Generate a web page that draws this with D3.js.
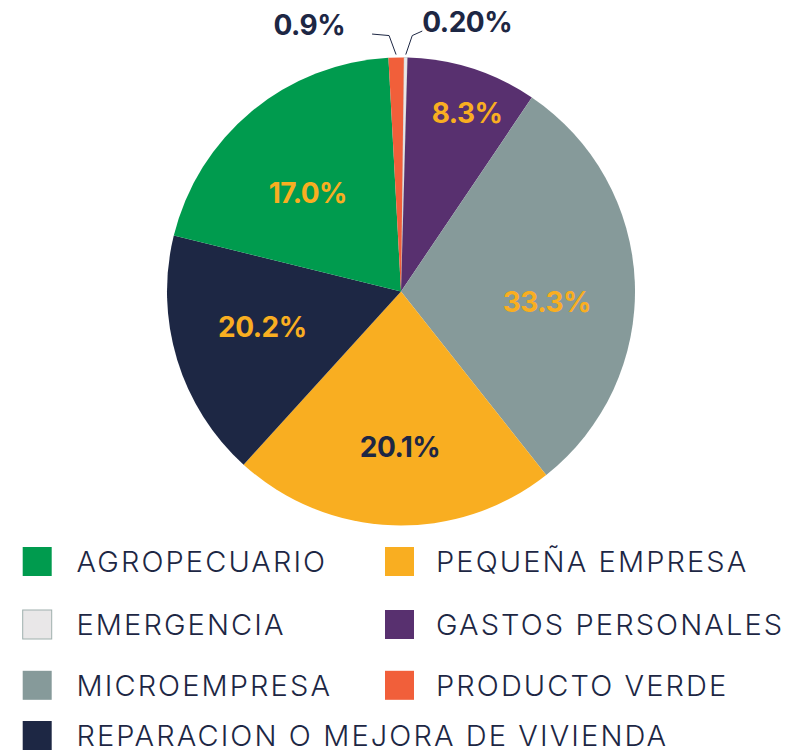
<!DOCTYPE html>
<html>
<head>
<meta charset="utf-8">
<script src="https://cdn.jsdelivr.net/npm/d3@7"></script>
<style>
  html, body { margin: 0; padding: 0; background: #fff; }
  svg { display: block; }
</style>
</head>
<body>
<div id="chart"></div>
<script>
// Categories, clockwise from the top of the pie
const categories = [
  "EMERGENCIA",
  "GASTOS PERSONALES",
  "MICROEMPRESA",
  "PEQUEÑA EMPRESA",
  "REPARACION O MEJORA DE VIVIENDA",
  "AGROPECUARIO",
  "PRODUCTO VERDE"
];
// slice sizes as drawn in the picture (%)
const shares = [0.25, 9.0, 29.9, 22.4, 17.1, 20.3, 1.05];
// percentages printed on the chart
const labels = ["0.20%", "8.3%", "33.3%", "20.1%", "20.2%", "17.0%", "0.9%"];
const colors = ["#e9e7e8", "#58306f", "#869a9a", "#f9ae21", "#1d2744", "#009b4e", "#f15f3a"];

// legend order (two columns)
const legendOrder = [
  "AGROPECUARIO", "PEQUEÑA EMPRESA",
  "EMERGENCIA", "GASTOS PERSONALES",
  "MICROEMPRESA", "PRODUCTO VERDE",
  "REPARACION O MEJORA DE VIVIENDA"
];

const width = 792;
const height = 753;
const cx = 401;
const cy = 291.5;
const radius = 234;
const navy = "#1d2744";
const gold = "#f9ae21";

const data = categories.map((c, i) => ({ cat: c, value: shares[i], label: labels[i], color: colors[i] }));

const svg = d3.select("#chart")
  .append("svg")
  .attr("width", width)
  .attr("height", height)
  .attr("viewBox", [0, 0, width, height]);

const offset = 0.7 * Math.PI / 180;
const pie = d3.pie()
  .sort(null)
  .value(d => d.value)
  .startAngle(offset)
  .endAngle(offset + 2 * Math.PI);

const arcs = pie(data);
const arc = d3.arc().innerRadius(0).outerRadius(radius);

const g = svg.append("g")
  .attr("transform", `translate(${cx},${cy})`);

// slices
g.selectAll("path")
  .data(arcs)
  .join("path")
  .attr("d", arc)
  .attr("fill", d => d.data.color)
  .attr("stroke", d => d.data.cat === "EMERGENCIA" ? "#b8c3c1" : "none")
  .attr("stroke-width", 0.6);

// label placement tweaks (bestFit-like), px
const nudge = {
  "GASTOS PERSONALES": [8, 2],
  "MICROEMPRESA": [0, 16],
  "PEQUEÑA EMPRESA": [4, 9],
  "REPARACION O MEJORA DE VIVIENDA": [1, -7],
  "AGROPECUARIO": [0, 14]
};

// labels inside the big slices
const big = arcs.filter(d => d.data.value > 5);
g.selectAll("text.inner")
  .data(big)
  .join("text")
  .attr("class", "inner")
  .attr("transform", d => {
    const a = (d.startAngle + d.endAngle) / 2;
    const r = (d.endAngle - d.startAngle) < 0.7 ? 190 : 146;
    const [nx, ny] = nudge[d.data.cat] || [0, 0];
    return `translate(${Math.sin(a) * r + nx},${-Math.cos(a) * r + ny})`;
  })
  .attr("text-anchor", "middle")
  .attr("dy", "0.36em")
  .attr("font-family", "Inter, 'Open Sans', sans-serif")
  .attr("font-weight", 700)
  .attr("font-size", "28px")
  .attr("letter-spacing", "-0.5px")
  .attr("fill", d => d.data.color === gold ? navy : gold)
  .text(d => d.data.label);

// leader lines and labels for the tiny slices
const small = arcs.filter(d => d.data.value <= 5);
small.forEach(d => {
  const a = (d.startAngle + d.endAngle) / 2;
  const x0 = Math.sin(a) * (radius + 3);
  const y0 = -Math.cos(a) * (radius + 3);
  const left = a > Math.PI;
  const x1 = x0 + (left ? -7 : 6.5);
  const y1 = y0 - 19;
  const x2 = x1 + (left ? -17 : 10);
  const y2 = y1 + (left ? -1.5 : -4.5);
  g.append("polyline")
    .attr("points", [[x0, y0], [x1, y1], [x2, y2]].map(p => p.join(",")).join(" "))
    .attr("fill", "none")
    .attr("stroke", navy)
    .attr("stroke-width", 1);
  g.append("text")
    .attr("x", left ? x2 - 27 : x2)
    .attr("y", y2 + 1)
    .attr("text-anchor", left ? "end" : "start")
    .attr("font-family", "Inter, 'Open Sans', sans-serif")
    .attr("font-weight", 700)
    .attr("font-size", "28px")
    .attr("letter-spacing", "-0.5px")
    .attr("fill", navy)
    .text(d.data.label);
});

// legend
const rowY = [561.5, 624.5, 685.3, 735.5];
const colX = [22.7, 385];
const textX = [76.5, 436];
const colorOf = c => colors[categories.indexOf(c)];

const legend = svg.append("g");
legendOrder.forEach((c, i) => {
  const row = Math.floor(i / 2);
  const col = i % 2;
  const item = legend.append("g")
    .attr("transform", `translate(0,${rowY[row]})`);
  item.append("rect")
    .attr("x", colX[col])
    .attr("y", -14.5)
    .attr("width", 29)
    .attr("height", 29)
    .attr("fill", colorOf(c))
    .attr("stroke", c === "EMERGENCIA" ? "#9fb0ad" : "none")
    .attr("stroke-width", 1);
  item.append("text")
    .attr("x", textX[col])
    .attr("y", 0)
    .attr("dy", "0.36em")
    .attr("font-family", "Inter, Lato, sans-serif")
    .attr("font-weight", 300)
    .attr("font-size", "29px")
    .attr("letter-spacing", "2.1px")
    .attr("fill", navy)
    .text(c);
});
</script>
</body>
</html>
